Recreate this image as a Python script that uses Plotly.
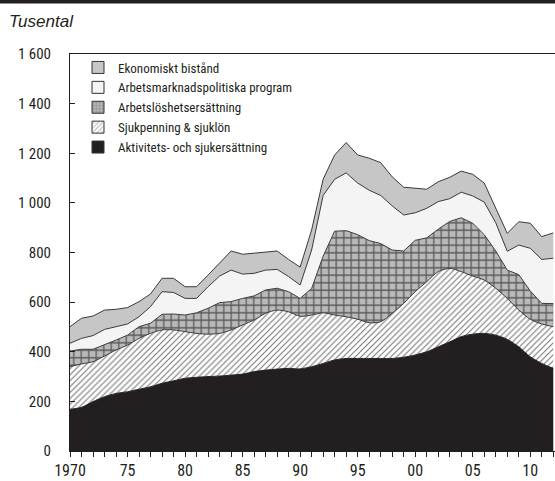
import plotly.graph_objects as go

years = list(range(1970, 2013))

aktivitet = [168, 176, 199, 219, 232, 239, 249, 259, 273, 283,
             293, 297, 300, 302, 306, 310, 320, 326, 330, 333,
             331, 340, 353, 367, 373, 373, 373, 373, 373, 378,
             387, 400, 420, 440, 461, 471, 474, 467, 450, 420,
             380, 353, 333]
sjukpenning = [172, 175, 161, 164, 175, 188, 205, 215, 215, 205,
               188, 177, 171, 172, 182, 198, 208, 229, 238, 228,
               212, 208, 204, 181, 168, 158, 144, 148, 182, 217,
               255, 282, 303, 296, 262, 234, 215, 189, 165, 148,
               151, 159, 168]
arbetsloshet = [63, 59, 50, 44, 40, 40, 47, 41, 63, 64,
                67, 83, 104, 124, 114, 107, 97, 94, 88, 81,
                72, 107, 228, 338, 347, 341, 331, 315, 255, 211,
                207, 177, 171, 189, 217, 213, 183, 150, 114, 143,
                114, 83, 93]
arbetsmarknad = [31, 44, 55, 63, 54, 45, 40, 67, 91, 87,
                 67, 58, 87, 107, 127, 98, 91, 80, 76, 61,
                 54, 155, 245, 209, 233, 208, 203, 194, 178, 145,
                 111, 119, 111, 92, 103, 110, 131, 114, 76, 119,
                 172, 177, 183]
ekonomiskt = [67, 81, 79, 78, 70, 66, 61, 51, 54, 57,
              47, 47, 47, 54, 77, 80, 81, 74, 74, 69,
              72, 81, 65, 98, 122, 113, 129, 132, 117, 112,
              99, 77, 80, 86, 85, 87, 77, 55, 72, 94,
              101, 92, 102]

x_tick_years = [1970, 1975, 1980, 1985, 1990, 1995, 2000, 2005, 2010]
x_tick_labels = ["1970", "75", "80", "85", "90", "95", "00", "05", "10"]
y_ticks = [0, 200, 400, 600, 800, 1000, 1200, 1400, 1600]
y_tick_labels = ["0", "200", "400", "600", "800", "1 000", "1 200", "1 400", "1 600"]

names = ["Aktivitets- och sjukersättning", "Sjukpenning & sjuklön",
         "Arbetslöshetsersättning", "Arbetsmarknadspolitiska program",
         "Ekonomiskt bistånd"]
values = [aktivitet, sjukpenning, arbetsloshet, arbetsmarknad, ekonomiskt]

FONT = "Liberation Sans Narrow, Roboto Condensed, DejaVu Sans Condensed, Liberation Sans, sans-serif"
EDGE = "#3a3a3a"

styles = [
    dict(fill="#231f20", line="#231f20", shape="spline", pattern=None),
    dict(fill="#ffffff", line=EDGE, shape="spline",
         pattern=dict(shape="/", fgcolor="#777777", bgcolor="#ffffff", size=4.2, solidity=0.25)),
    dict(fill="#b9b9b9", line=EDGE, shape="linear",
         pattern=dict(shape="+", fgcolor="#575757", bgcolor="#b9b9b9", size=7.5, solidity=0.3)),
    dict(fill="#f4f4f4", line=EDGE, shape="linear", pattern=None),
    dict(fill="#c6c6c6", line=EDGE, shape="linear", pattern=None),
]

fig = go.Figure()
for name, vals, st in zip(names, values, styles):
    kw = dict(x=years, y=vals, name=name, mode="lines", stackgroup="one",
              fillcolor=st["fill"], showlegend=False, hoverinfo="skip",
              line=dict(color=st["line"], width=1, shape=st["shape"], smoothing=0.8))
    if st["pattern"]:
        kw["fillpattern"] = dict(fillmode="replace", **st["pattern"])
    fig.add_trace(go.Scatter(**kw))

for name, st in zip(names, styles):
    marker = dict(color=st["fill"], line=dict(color="#333333", width=1))
    if st["pattern"]:
        marker["pattern"] = dict(shape=st["pattern"]["shape"], fgcolor=st["pattern"]["fgcolor"],
                                 bgcolor=st["pattern"]["bgcolor"], size=4, solidity=0.35)
    fig.add_trace(go.Bar(x=[None], y=[None], name=name, marker=marker, showlegend=True))

W, H = 555, 481
L, T, B = 70, 54, 30
plot_w = W - L
plot_h = H - T - B

def px_x(p):
    return (p - L) / plot_w

def px_y(p):
    return (H - B - p) / plot_h

fig.update_layout(
    width=W, height=H,
    margin=dict(l=L, r=0, t=T, b=B),
    paper_bgcolor="white", plot_bgcolor="white",
    font=dict(family=FONT, color="#231f20", size=15),
    showlegend=True,
    legend=dict(x=px_x(78), y=px_y(52.5), xanchor="left", yanchor="top",
                traceorder="reversed", bgcolor="rgba(0,0,0,0)",
                font=dict(size=13, family=FONT), tracegroupgap=0),
    xaxis=dict(type="linear", range=[1970, 2012.15], tickmode="array",
               tickvals=x_tick_years, ticktext=x_tick_labels,
               ticks="outside", ticklen=5, tickcolor="#231f20",
               showline=True, linecolor="#231f20", linewidth=1, mirror=True,
               showgrid=False, zeroline=False,
               tickfont=dict(size=16, family=FONT),
               minor=dict(dtick=1, ticks="outside", ticklen=5, tickcolor="#231f20", showgrid=False)),
    yaxis=dict(range=[0, 1600], tickmode="array", tickvals=y_ticks, ticktext=y_tick_labels,
               ticks="inside", ticklen=5, tickcolor="#231f20",
               showline=True, linecolor="#231f20", linewidth=1,
               showgrid=False, zeroline=False, ticklabelstandoff=15,
               tickfont=dict(size=15, family=FONT)),
    shapes=[dict(type="rect", xref="paper", yref="paper",
                 x0=px_x(0), x1=1.0, y0=px_y(3.5), y1=px_y(0),
                 fillcolor="#231f20", line=dict(width=0), layer="above")],
    annotations=[dict(text="<i>Tusental</i>", xref="paper", yref="paper",
                      x=px_x(7), y=px_y(22), xanchor="left", yanchor="middle",
                      showarrow=False,
                      font=dict(size=17, family="Liberation Sans, Arial, sans-serif", color="#231f20"))],
)

fig.write_html("out.html",
               config={"displayModeBar": False},
               post_script="document.body.style.margin='0px';document.body.style.padding='0px';"
                           "document.documentElement.style.overflow='hidden';")
